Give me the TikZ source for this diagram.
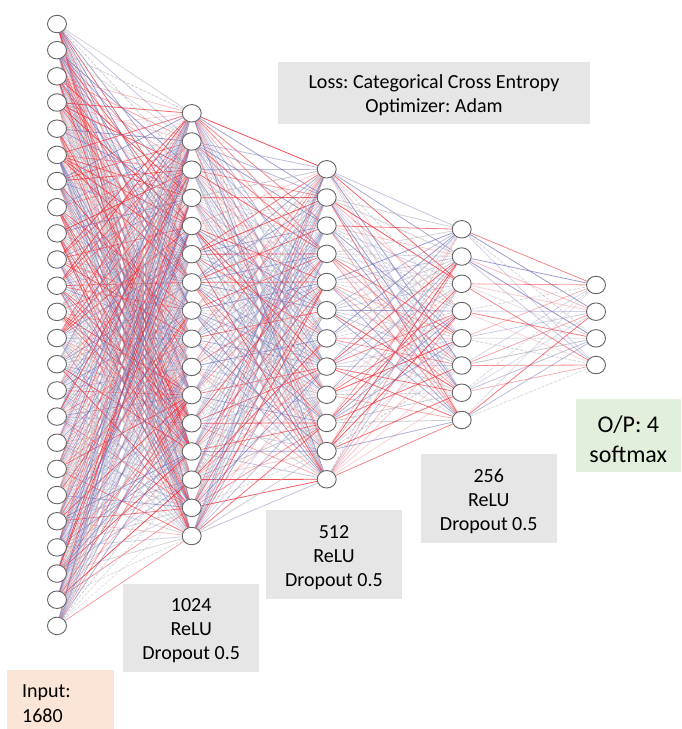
\documentclass[tikz,border=0pt]{standalone}
\usepackage{fontspec}
\setmainfont{Carlito}
\usetikzlibrary{shapes.geometric,backgrounds}
\definecolor{wpos}{RGB}{238,45,55}
\definecolor{wneg}{RGB}{115,115,185}
\definecolor{wnil}{RGB}{185,185,195}
\definecolor{ringgray}{RGB}{100,100,100}
\definecolor{boxgray}{RGB}{231,230,230}
\definecolor{boxgreen}{RGB}{226,239,218}
\definecolor{boxpeach}{RGB}{251,229,214}
% tall invisible strut that lowers the text block a little inside its box
\newcommand\toppad[1]{\rule{0pt}{#1}}
\tikzset{
  neuron/.style={ellipse, draw=ringgray, line width=0.9pt, fill=white,
    minimum width=19pt, minimum height=17.5pt, inner sep=0pt},
  wire/.style={line width=0.8pt},
  infobox/.style={fill=boxgray, align=center, inner sep=0pt,
    font=\fontsize{20}{24}\selectfont\frenchspacing},
}
% one weighted connection: colour = sign, opacity = magnitude
\newcommand\nnwire[2]{%
  \pgfmathsetmacro\wkind{rnd}%
  \pgfmathsetmacro\wstr{rnd}%
  \pgfmathsetmacro\wdash{rnd}%
  \ifdim\wkind pt<0.38pt
    \pgfmathsetmacro\wop{0.2+0.65*\wstr}%
    \draw[wire, wpos, draw opacity=\wop] (#1) -- (#2);%
  \else\ifdim\wkind pt<0.70pt
    \pgfmathsetmacro\wop{0.25+0.5*\wstr}%
    \draw[wire, wneg, draw opacity=\wop] (#1) -- (#2);%
  \else
    \pgfmathsetmacro\wop{0.35+0.5*\wstr}%
    \ifdim\wdash pt<0.45pt
      \draw[wire, wnil, draw opacity=\wop, dash pattern=on 3pt off 1.5pt] (#1) -- (#2);%
    \else
      \draw[wire, wnil, draw opacity=\wop] (#1) -- (#2);%
    \fi
  \fi\fi}
\begin{document}
\begin{tikzpicture}[x=1pt,y=-1pt]
\useasboundingbox (0,0) rectangle (681,729);
\pgfmathsetseed{20231}
% layers of neurons
\foreach \i in {1,...,24} \node[neuron] (a\i) at (57,{24+(\i-1)*26.17}) {};
\foreach \i in {1,...,16} \node[neuron] (b\i) at (191.7,{113.3+(\i-1)*28.18}) {};
\foreach \i in {1,...,12} \node[neuron] (c\i) at (326.7,{169.3+(\i-1)*28.18}) {};
\foreach \i in {1,...,8}  \node[neuron] (d\i) at (461.7,{229.3+(\i-1)*27.24}) {};
\foreach \i in {1,...,4}  \node[neuron] (e\i) at (596,{285+(\i-1)*26.67}) {};
% dense connections behind the neurons
\begin{pgfonlayer}{background}
\fill[white] (0,0) rectangle (681,729);
\foreach \i in {1,...,24}{\foreach \j in {1,...,16}{\nnwire{a\i}{b\j}}}
\foreach \i in {1,...,16}{\foreach \j in {1,...,12}{\nnwire{b\i}{c\j}}}
\foreach \i in {1,...,12}{\foreach \j in {1,...,8}{\nnwire{c\i}{d\j}}}
\foreach \i in {1,...,8}{\foreach \j in {1,...,4}{\nnwire{d\i}{e\j}}}
\end{pgfonlayer}
% annotation boxes
\node[infobox, minimum width=312pt, minimum height=62pt] (loss) at (434,93)
  {\toppad{19pt}Loss: Categorical Cross Entropy\\Optimizer: Adam};
\node[infobox, minimum width=135.7pt, minimum height=88.3pt] (h1) at (191.2,628)
  {\toppad{19pt}1024\\ReLU\\Dropout 0.5};
\node[infobox, minimum width=136pt, minimum height=88.7pt] (h2) at (334,554.3)
  {\toppad{19pt}512\\ReLU\\Dropout 0.5};
\node[infobox, minimum width=135.7pt, minimum height=88.7pt] (h3) at (488.8,498.3)
  {\toppad{19pt}256\\ReLU\\Dropout 0.5};
\node[infobox, fill=boxgreen, font=\fontsize{24}{30}\selectfont\frenchspacing,
  minimum width=104.7pt, minimum height=73pt] (outbox) at (628.3,435.8)
  {\toppad{23pt}O/P: 4\\softmax};
\node[fill=boxpeach, minimum width=106.7pt, minimum height=59pt, inner sep=0pt]
  (inbox) at (60.7,699.5) {};
\node[anchor=west, align=left, inner sep=0pt, font=\fontsize{20}{25}\selectfont]
  (intext) at (22,704) {Input:\\1680};
\end{tikzpicture}
\end{document}
